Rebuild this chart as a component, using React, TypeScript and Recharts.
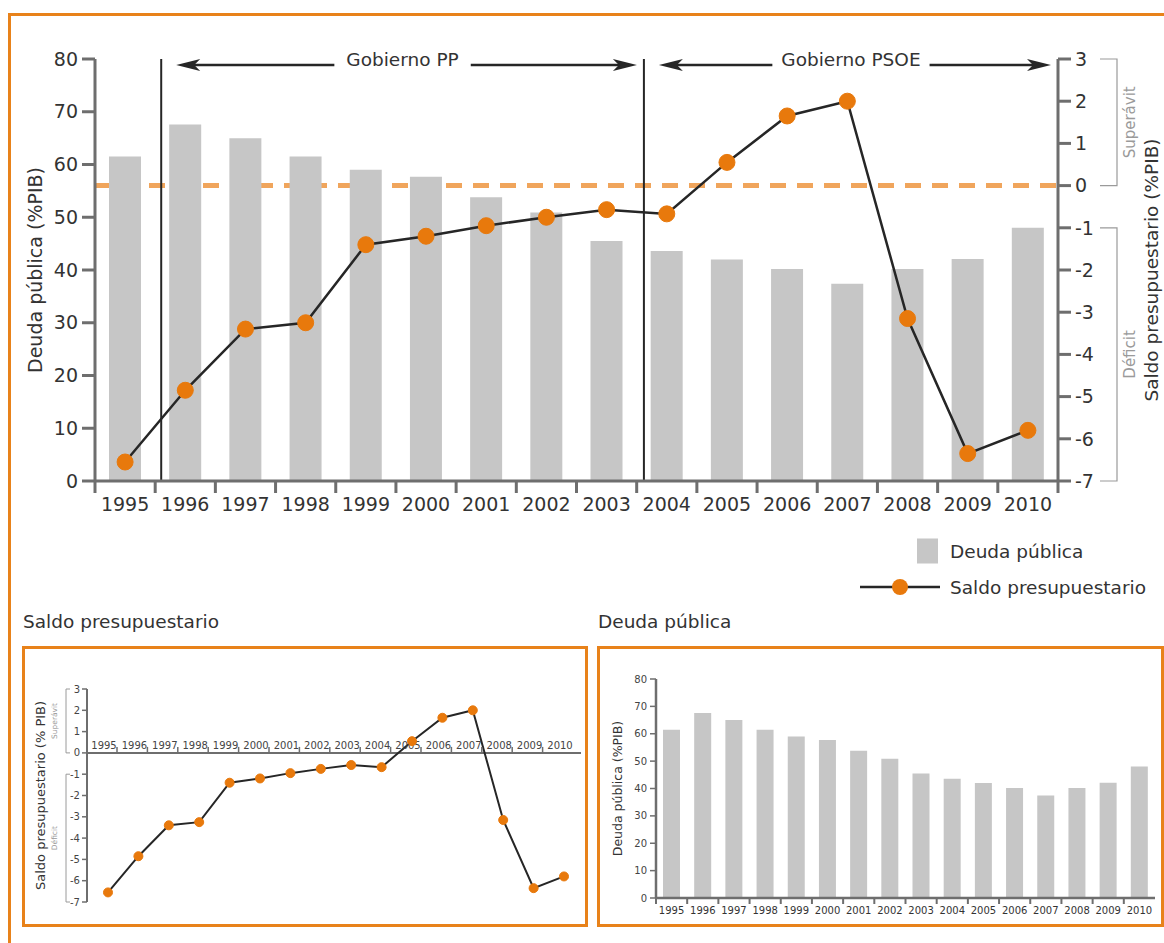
import React from 'react';
import {
  ComposedChart,
  LineChart,
  BarChart,
  Bar,
  Line,
  XAxis,
  YAxis,
  ReferenceLine,
  ReferenceArea,
  ReferenceDot,
  Legend,
} from 'recharts';

const years = ['1995', '1996', '1997', '1998', '1999', '2000', '2001', '2002', '2003', '2004', '2005', '2006', '2007', '2008', '2009', '2010'];
const deudaPublica = [61.5, 67.6, 65.0, 61.5, 59.0, 57.7, 53.8, 50.9, 45.5, 43.6, 42.0, 40.2, 37.4, 40.2, 42.1, 48.0];
const saldoPresupuestario = [-6.55, -4.85, -3.4, -3.25, -1.4, -1.2, -0.95, -0.75, -0.57, -0.67, 0.55, 1.65, 2.0, -3.15, -6.35, -5.8];
const deudaTicks = [0, 10, 20, 30, 40, 50, 60, 70, 80];
const saldoTicks = [-7, -6, -5, -4, -3, -2, -1, 0, 1, 2, 3];
// government periods: first and last year band covered, plus the exact start / end in fractional years
const periodos = [
  { nombre: 'Gobierno PP', desde: '1996', hasta: '2003', inicio: 1996.1, fin: 2004.12 },
  { nombre: 'Gobierno PSOE', desde: '2004', hasta: '2010', inicio: 2004.12, fin: 2011 },
];
const tramos = [
  { nombre: 'Superávit', desde: 0, hasta: 3 },
  { nombre: 'Déficit', desde: -7, hasta: -1 },
];

const data = years.map((year, i) => ({ year, deuda: deudaPublica[i], saldo: saldoPresupuestario[i] }));

const ORANGE = '#e8790c';
const FRAME = '#e8821a';
const DASH = '#f0a55c';
const BAR = '#c6c6c6';
const AXIS = '#6e6e6e';
const INK = '#262626';
const TEXT = '#333333';

// main plot box, shared by the dashed zero line layer and the chart on top of it
const MAIN_W = 1164;
const MAIN_H = 610;
const mainMargin = { top: 59, right: 0, bottom: 89, left: 35 };
const LEFT_AXIS_W = 60;
const RIGHT_AXIS_W = 106;
const X_AXIS_H = 40;

// tick marks sit on the category boundaries, labels in the middle of each band
const makeBandTick = (cfg: any) => (props: any) => {
  const { x, y, payload, index } = props;
  const half = payload && payload.offset ? payload.offset : cfg.half;
  const last = index === years.length - 1;
  return (
    <g>
      <line x1={x - half} x2={x - half} y1={y} y2={y + cfg.mark} stroke={AXIS} strokeWidth={cfg.markWidth} />
      {last && cfg.endMark && (
        <line x1={x + half} x2={x + half} y1={y} y2={y + cfg.mark} stroke={AXIS} strokeWidth={cfg.markWidth} />
      )}
      <text x={x} y={y + cfg.dy} textAnchor="middle" fontSize={cfg.fontSize} fill={TEXT}>
        {payload.value}
      </text>
    </g>
  );
};

const periodShape = (p: any) => (props: any) => {
  const { x, y, width, height } = props;
  const nBands = years.indexOf(p.hasta) - years.indexOf(p.desde) + 1;
  const bw = width / nBands;
  const sx = x + (p.inicio - Number(p.desde)) * bw;
  const ex = x + (p.fin - Number(p.desde)) * bw;
  const ay = y + 6;
  const a = sx + 15;
  const b = ex - 7;
  const mid = (sx + ex) / 2;
  const half = p.nombre.length * 5.2 + 11;
  return (
    <g>
      <line x1={sx} x2={sx} y1={y} y2={y + height} stroke={INK} strokeWidth={2} />
      <line x1={a + 12} x2={mid - half} y1={ay} y2={ay} stroke={INK} strokeWidth={2.5} />
      <line x1={mid + half} x2={b - 12} y1={ay} y2={ay} stroke={INK} strokeWidth={2.5} />
      <path d={`M${a},${ay} L${a + 24},${ay - 6} L${a + 18},${ay} L${a + 24},${ay + 6} Z`} fill={INK} />
      <path d={`M${b},${ay} L${b - 24},${ay - 6} L${b - 18},${ay} L${b - 24},${ay + 6} Z`} fill={INK} />
      <text x={mid} y={ay + 1} textAnchor="middle" fontSize={18.5} fill={TEXT}>
        {p.nombre}
      </text>
    </g>
  );
};

const bracketShape = (nombre: string, side: 'left' | 'right', cfg: any) => (props: any) => {
  const { x, y, width, height } = props;
  const bx = side === 'right' ? x + width + cfg.gap : x - cfg.gap;
  const stub = side === 'right' ? bx - cfg.stub : bx + cfg.stub;
  const tx = side === 'right' ? bx + cfg.textGap : bx - cfg.textGap;
  const ty = y + height / 2;
  return (
    <g>
      <path d={`M${stub},${y} H${bx} V${y + height} H${stub}`} fill="none" stroke="#9a9a9a" strokeWidth={cfg.sw} />
      <text
        x={tx}
        y={ty}
        transform={`rotate(-90 ${tx} ${ty})`}
        textAnchor="middle"
        dominantBaseline="central"
        fontSize={cfg.fontSize}
        fill="#9a9a9a"
      >
        {nombre}
      </text>
    </g>
  );
};

const yearMark = (year: string, index: number) => (props: any) => {
  const { cx, cy } = props;
  return (
    <g>
      <text x={cx - 4} y={cy - 4} textAnchor="middle" fontSize={10} fill="#444">
        {year}
      </text>
      {index < years.length - 1 && <line x1={cx + 9} x2={cx + 9} y1={cy} y2={cy - 6} stroke={AXIS} strokeWidth={1.5} />}
    </g>
  );
};

const legendDefault = [
  { value: 'Deuda pública', type: 'rect' },
  { value: 'Saldo presupuestario', type: 'line' },
];

const LegendContent = (props: any) => {
  const payload = props.payload && props.payload.length ? props.payload : legendDefault;
  const items = [...payload].sort((p: any, q: any) => (p.type === 'rect' ? 0 : 1) - (q.type === 'rect' ? 0 : 1));
  return (
    <svg width={309} height={80}>
      {items.map((it: any, i: number) => {
        const cy = 23 + i * 36;
        return (
          <g key={it.value}>
            {it.type === 'rect' ? (
              <rect x={62} y={cy - 12.5} width={21} height={25} fill={BAR} />
            ) : (
              <g>
                <line x1={5} x2={85} y1={cy} y2={cy} stroke={INK} strokeWidth={2.5} />
                <circle cx={45} cy={cy} r={8} fill={ORANGE} />
              </g>
            )}
            <text x={95} y={cy} dominantBaseline="central" fontSize={18.5} fill={TEXT}>
              {it.value}
            </text>
          </g>
        );
      })}
    </svg>
  );
};

// the dashed zero line lies under the bars, so it gets its own layer underneath
const ZeroLineLayer = () => (
  <ComposedChart
    width={MAIN_W}
    height={MAIN_H}
    data={data}
    margin={{
      top: mainMargin.top,
      right: mainMargin.right + RIGHT_AXIS_W,
      bottom: mainMargin.bottom + X_AXIS_H,
      left: mainMargin.left + LEFT_AXIS_W,
    }}
  >
    <XAxis dataKey="year" hide />
    <YAxis yAxisId="right" domain={[-7, 3]} allowDataOverflow hide />
    <ReferenceLine
      yAxisId="right"
      y={0}
      ifOverflow="visible"
      stroke={DASH}
      strokeWidth={5}
      strokeDasharray="16 11"
    />
    <Line yAxisId="right" dataKey="saldo" stroke="none" dot={false} activeDot={false} isAnimationActive={false} />
  </ComposedChart>
);

const MainChart = () => (
  <ComposedChart width={MAIN_W} height={MAIN_H} data={data} margin={mainMargin}>
    <XAxis
      xAxisId="cat"
      dataKey="year"
      height={X_AXIS_H}
      interval={0}
      axisLine={{ stroke: AXIS, strokeWidth: 3 }}
      tickLine={false}
      tickSize={0}
      tickMargin={0}
      tick={makeBandTick({ half: 30.1, mark: 12, markWidth: 3, dy: 30, fontSize: 19, endMark: true })}
    />
    <YAxis
      yAxisId="left"
      domain={[0, 80]}
      ticks={deudaTicks}
      interval={0}
      width={LEFT_AXIS_W}
      axisLine={{ stroke: AXIS, strokeWidth: 3 }}
      tickLine={{ stroke: AXIS, strokeWidth: 3 }}
      tickSize={13}
      tickMargin={4}
      tick={{ fontSize: 19, fill: TEXT }}
      label={{
        value: 'Deuda pública (%PIB)',
        angle: -90,
        position: 'insideLeft',
        offset: 0,
        style: { textAnchor: 'middle', fontSize: 19, fill: TEXT },
      }}
    />
    <YAxis
      yAxisId="right"
      orientation="right"
      domain={[-7, 3]}
      ticks={saldoTicks}
      interval={0}
      width={RIGHT_AXIS_W}
      axisLine={{ stroke: AXIS, strokeWidth: 3 }}
      tickLine={{ stroke: AXIS, strokeWidth: 3 }}
      tickSize={13}
      tickMargin={4}
      tick={{ fontSize: 19, fill: TEXT }}
      label={{
        value: 'Saldo presupuestario (%PIB)',
        angle: -90,
        position: 'insideRight',
        offset: 13,
        style: { textAnchor: 'middle', fontSize: 18.5, fill: TEXT },
      }}
    />
    {tramos.map((t) => (
      <ReferenceArea
        key={t.nombre}
        xAxisId="cat"
        yAxisId="right"
        y1={t.desde}
        y2={t.hasta}
        ifOverflow="visible"
        shape={bracketShape(t.nombre, 'right', { gap: 59, stub: 17, textGap: 13, sw: 1.2, fontSize: 15 })}
      />
    ))}
    {periodos.map((p) => (
      <ReferenceArea
        key={p.nombre}
        xAxisId="cat"
        yAxisId="left"
        x1={p.desde}
        x2={p.hasta}
        ifOverflow="visible"
        shape={periodShape(p)}
      />
    ))}
    <Bar xAxisId="cat" yAxisId="left" dataKey="deuda" name="Deuda pública" fill={BAR} barSize={32} isAnimationActive={false} />
    <Line
      xAxisId="cat"
      yAxisId="right"
      dataKey="saldo"
      name="Saldo presupuestario"
      stroke={INK}
      strokeWidth={2.5}
      dot={{ r: 8, fill: ORANGE, stroke: ORANGE, strokeWidth: 1 }}
      activeDot={false}
      isAnimationActive={false}
    />
    <Legend
      layout="vertical"
      align="center"
      verticalAlign="middle"
      width={309}
      content={LegendContent}
      wrapperStyle={{ left: 855, top: 528, width: 309 }}
    />
  </ComposedChart>
);

const SaldoChart = () => (
  <LineChart width={600} height={290} data={data} margin={{ top: 49, right: 19, bottom: 28, left: 40 }}>
    <XAxis dataKey="year" hide padding={{ left: 21, right: 17 }} />
    <YAxis
      domain={[-7, 3]}
      ticks={saldoTicks}
      interval={0}
      width={47}
      axisLine={{ stroke: AXIS, strokeWidth: 2 }}
      tickLine={{ stroke: AXIS, strokeWidth: 1.5 }}
      tickSize={5}
      tickMargin={2}
      tick={{ fontSize: 10, fill: '#444' }}
      label={{
        value: 'Saldo presupuestario (% PIB)',
        angle: -90,
        position: 'insideLeft',
        offset: 0,
        style: { textAnchor: 'middle', fontSize: 13, fill: TEXT },
      }}
    />
    {tramos.map((t) => (
      <ReferenceArea
        key={t.nombre}
        y1={t.desde}
        y2={t.hasta}
        ifOverflow="visible"
        shape={bracketShape(t.nombre, 'left', { gap: 42, stub: 4, textGap: 11, sw: 1, fontSize: 7.5 })}
      />
    ))}
    <ReferenceLine y={0} stroke={AXIS} strokeWidth={2} />
    {years.map((yr, i) => (
      <ReferenceDot key={yr} x={yr} y={0} r={0} ifOverflow="visible" shape={yearMark(yr, i)} />
    ))}
    <Line
      dataKey="saldo"
      stroke={INK}
      strokeWidth={2}
      dot={{ r: 4.5, fill: ORANGE, stroke: ORANGE, strokeWidth: 1 }}
      activeDot={false}
      isAnimationActive={false}
    />
  </LineChart>
);

const DeudaChart = () => (
  <BarChart width={564} height={290} data={data} margin={{ top: 39, right: 9, bottom: 12, left: 16 }}>
    <XAxis
      dataKey="year"
      height={20}
      interval={0}
      axisLine={{ stroke: AXIS, strokeWidth: 2.5 }}
      tickLine={false}
      tickSize={0}
      tickMargin={0}
      tick={makeBandTick({ half: 15.6, mark: 6, markWidth: 2, dy: 16, fontSize: 10, endMark: false })}
    />
    <YAxis
      domain={[0, 80]}
      ticks={deudaTicks}
      interval={0}
      width={40}
      axisLine={{ stroke: AXIS, strokeWidth: 2.5 }}
      tickLine={{ stroke: AXIS, strokeWidth: 1.5 }}
      tickSize={6}
      tickMargin={3}
      tick={{ fontSize: 10, fill: '#444' }}
      label={{
        value: 'Deuda pública (%PIB)',
        angle: -90,
        position: 'insideLeft',
        offset: 2,
        style: { textAnchor: 'middle', fontSize: 12.5, fill: TEXT },
      }}
    />
    <Bar dataKey="deuda" fill={BAR} barSize={17} isAnimationActive={false} />
  </BarChart>
);

const box: React.CSSProperties = {
  position: 'absolute',
  border: `3px solid ${FRAME}`,
  boxSizing: 'border-box',
};

const title: React.CSSProperties = {
  position: 'absolute',
  fontSize: 18.5,
  lineHeight: '20px',
  color: TEXT,
  whiteSpace: 'nowrap',
};

export default function App() {
  return (
    <div
      style={{
        position: 'absolute',
        left: 0,
        top: 0,
        width: 1164,
        height: 943,
        overflow: 'hidden',
        background: '#fff',
        fontFamily: '"DejaVu Sans", sans-serif',
      }}
    >
      <div
        style={{
          position: 'absolute',
          left: 8,
          top: 13,
          width: 1156,
          height: 930,
          borderTop: `3px solid ${FRAME}`,
          borderLeft: `3px solid ${FRAME}`,
          boxSizing: 'border-box',
        }}
      />
      <div style={{ ...box, left: 22, top: 646, width: 566, height: 281 }} />
      <div style={{ ...box, left: 597, top: 646, width: 567, height: 281 }} />
      <div style={{ ...title, left: 23, top: 612 }}>Saldo presupuestario</div>
      <div style={{ ...title, left: 598, top: 612 }}>Deuda pública</div>
      <div style={{ position: 'absolute', left: 0, top: 0 }}>
        <ZeroLineLayer />
      </div>
      <div style={{ position: 'absolute', left: 0, top: 0 }}>
        <MainChart />
      </div>
      <div style={{ position: 'absolute', left: 0, top: 640 }}>
        <SaldoChart />
      </div>
      <div style={{ position: 'absolute', left: 600, top: 640 }}>
        <DeudaChart />
      </div>
    </div>
  );
}
